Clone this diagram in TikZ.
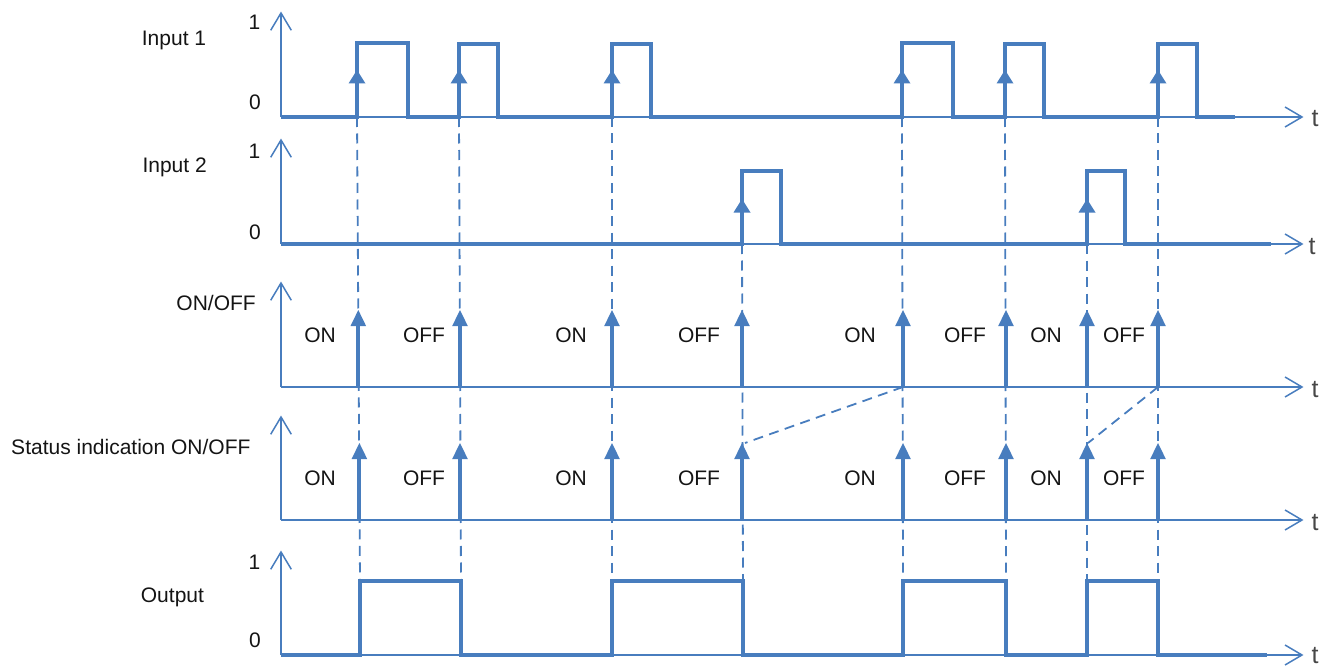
\documentclass[tikz,border=0pt]{standalone}
\usepackage{fontspec}
\setmainfont{Liberation Sans}
\usetikzlibrary{calc}
\definecolor{sigblue}{RGB}{72,125,190}
\begin{document}
\begin{tikzpicture}[x=1pt,y=-1pt,
  sig/.style={draw=sigblue, line width=4pt},
  ax/.style={draw=sigblue, line width=1.5pt},
  guide/.style={draw=sigblue, line width=1.8pt, dash pattern=on 10pt off 6.5pt},
  lbl/.style={inner sep=0pt, font=\fontsize{21}{25}\selectfont, text=black!92, anchor=base},
  tlbl/.style={inner sep=0pt, font=\fontsize{25}{28}\selectfont, text=black!72, anchor=base},
  smalltri/.pic={\fill[sigblue] (0,0) -- (-8.5,13.5) -- (8.5,13.5) -- cycle;},
  bigtri/.pic={\fill[sigblue] (0,0) -- (-7.8,16) -- (7.8,16) -- cycle;}
]
\useasboundingbox (0,0) rectangle (1326,666);

% ---- named points: sources of the guide lines and their ends on the output
\foreach \n/\sx/\sy/\dx in {1/357/117/360, 2/459/117/461, 3/612/117/612, 4/742/244/743,
                           5/902/117/903, 6/1005/117/1006, 7/1087/244/1087, 8/1158/117/1158}{
  \coordinate (s\n) at (\sx,\sy);
  \coordinate (d\n) at (\dx,581);
}
% impulse positions in rows 3 and 4
\foreach \n/\px/\qx in {1/358.3/359.4, 2/460/460, 3/612/612, 4/742/742, 5/903/903, 6/1006/1006, 7/1087/1087, 8/1158/1158}{
  \coordinate (a\n) at (\px,387);
  \coordinate (at\n) at (\px,310);
  \coordinate (b\n) at (\qx,520);
  \coordinate (bt\n) at (\qx,443);
}

% ---- dashed guide lines
\foreach \n in {1,...,8}{ \draw[guide] (s\n) -- (d\n); }
\draw[guide] (a5) -- ($(bt4)+(3,0)$);
\draw[guide] (a8) -- ($(bt7)+(1,0)$);

% ---- axes
\foreach \i/\top/\base/\tx/\ty in {1/13/117/1315/127, 2/140/244/1312/254, 3/283/387/1315/397, 4/417/520/1315/530, 5/552/655/1315/663}{
  \coordinate (o\i) at (281,\base);
  \coordinate (ytip\i) at (281,\top);
  \coordinate (ttip\i) at (1302,\base);
  \draw[ax] (o\i) -- (ytip\i);
  \draw[ax] (ytip\i) ++(-10.3,17.3) -- (ytip\i) -- ++(10.3,17.3);
  \draw[ax] (o\i) -- (ttip\i);
  \draw[ax] (ttip\i) ++(-17,-10) -- (ttip\i) -- ++(-17,10);
  \node[tlbl] (t\i) at (\tx,\ty) {t};
}

% ---- Input 1
\draw[sig] (o1) -- (357,117) -- (357,43) -- (408,43) -- (408,117) -- (459,117) -- (459,44)
  -- (498,44) -- (498,117) -- (612,117) -- (612,44) -- (651,44) -- (651,117) -- (902,117)
  -- (902,43) -- (953,43) -- (953,117) -- (1005,117) -- (1005,44) -- (1044,44) -- (1044,117)
  -- (1158,117) -- (1158,44) -- (1197,44) -- (1197,117) -- (1235,117);
\foreach \x in {357,459,612,902,1005,1158}{ \pic at (\x,70) {smalltri}; }

% ---- Input 2
\draw[sig] (o2) -- (742,244) -- (742,171) -- (781,171) -- (781,244) -- (1087,244)
  -- (1087,171) -- (1125,171) -- (1125,244) -- (1271,244);
\foreach \x in {742,1087}{ \pic at (\x,199) {smalltri}; }

% ---- ON/OFF and status impulses
\foreach \n in {1,...,8}{
  \draw[sig] (a\n) -- ($(at\n)+(0,15)$);
  \pic at (at\n) {bigtri};
  \draw[sig] (b\n) -- ($(bt\n)+(0,15)$);
  \pic at (bt\n) {bigtri};
}
\foreach \n/\x/\txt in {1/320/ON, 2/424/OFF, 3/571/ON, 4/699/OFF, 5/860/ON, 6/965/OFF, 7/1046/ON, 8/1124/OFF}{
  \node[lbl] (c\n) at (\x,342) {\txt};
  \node[lbl] (e\n) at (\x,485) {\txt};
}

% ---- Output
\draw[sig] (o5) -- (360,655) -- (360,581) -- (461,581) -- (461,655) -- (612,655) -- (612,581)
  -- (743,581) -- (743,655) -- (903,655) -- (903,581) -- (1006,581) -- (1006,655) -- (1087,655)
  -- (1087,581) -- (1158,581) -- (1158,655) -- (1267,655);

% ---- row labels and levels
\node[lbl, anchor=base west] (in1) at (141.7,46) {Input 1};
\node[lbl] (one1) at (254.5,30) {1};
\node[lbl] (zero1) at (255,110) {0};
\node[lbl, anchor=base west] (in2) at (142.3,172) {Input 2};
\node[lbl] (one2) at (254.5,159) {1};
\node[lbl] (zero2) at (255,239) {0};
\node[lbl, anchor=base east] (onoff) at (256,310) {ON/OFF};
\node[lbl, anchor=base east] (status) at (250.7,454) {Status indication ON/OFF};
\node[lbl, anchor=base west] (out) at (140.7,602) {Output};
\node[lbl] (one5) at (254.5,569) {1};
\node[lbl] (zero5) at (255,647) {0};
\end{tikzpicture}
\end{document}
